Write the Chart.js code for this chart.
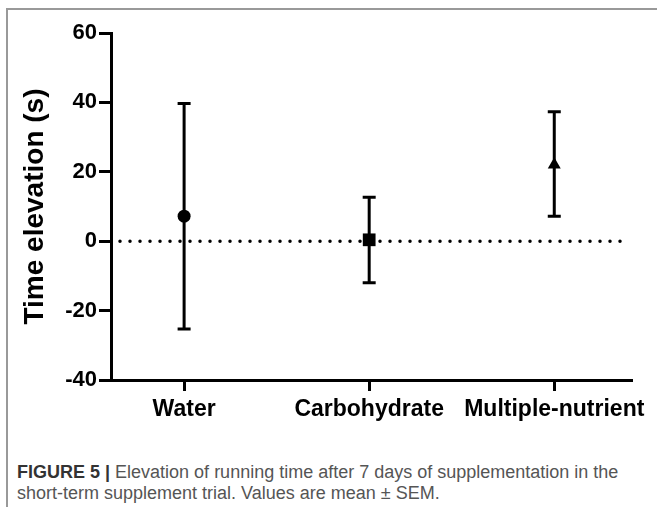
<!DOCTYPE html>
<html>
<head>
<meta charset="utf-8">
<script src="https://cdn.jsdelivr.net/npm/chart.js@4/dist/chart.umd.min.js"></script>
<style>
  html, body { margin: 0; padding: 0; background: #fff; }
  body { width: 657px; height: 507px; position: relative; overflow: hidden; }
  .frame { position: absolute; left: 6px; top: 8px; width: 700px; height: 520px;
           border-top: 2px solid #999; border-left: 2px solid #999; }
  #wrap { position: absolute; left: 0; top: 0; width: 657px; height: 440px; }
  .caption { position: absolute; left: 17px; top: 462px; width: 640px; white-space: nowrap;
             font: 18px "Liberation Sans", Arial, sans-serif; line-height: 21px; color: #555; }
  .caption b { color: #333; }
</style>
</head>
<body>
<div class="frame"></div>
<div id="wrap"><canvas id="chart"></canvas></div>
<div class="caption"><b>FIGURE 5 |</b> Elevation of running time after 7 days of supplementation in the<br>short-term supplement trial. Values are mean &plusmn; SEM.</div>
<script>
// Values (mean and the ends of the SEM bars)
const categories = ['Water', 'Carbohydrate', 'Multiple-nutrient'];
const means = [7.2, 0.4, 22];
const upper = [39.7, 12.7, 37.3];
const lower = [-25.3, -12, 7.2];
const yTicks = [-40, -20, 0, 20, 40, 60];

const FONT = '"Liberation Sans", Arial, sans-serif';

// error bars + dotted zero line, drawn under the markers
const errorBars = {
  id: 'errorBars',
  beforeDatasetsDraw(chart) {
    const { ctx, chartArea } = chart;
    const xs = chart.scales.x, ys = chart.scales.y;
    ctx.save();
    // zero reference line
    const y0 = ys.getPixelForValue(0);
    ctx.strokeStyle = '#000';
    ctx.lineWidth = 3.5;
    ctx.lineCap = 'round';
    ctx.setLineDash([0, 10]);
    ctx.beginPath();
    ctx.moveTo(chartArea.left + 9, y0);
    ctx.lineTo(chartArea.right - 4, y0);
    ctx.stroke();
    ctx.setLineDash([]);
    ctx.lineCap = 'butt';
    ctx.lineWidth = 3;
    for (let i = 0; i < categories.length; i++) {
      const x = xs.getPixelForValue(i);
      const yt = ys.getPixelForValue(upper[i]);
      const yb = ys.getPixelForValue(lower[i]);
      ctx.beginPath();
      ctx.moveTo(x, yt); ctx.lineTo(x, yb);
      ctx.moveTo(x - 6.5, yt); ctx.lineTo(x + 6.5, yt);
      ctx.moveTo(x - 6.5, yb); ctx.lineTo(x + 6.5, yb);
      ctx.stroke();
    }
    ctx.restore();
  }
};

new Chart(document.getElementById('chart'), {
  type: 'scatter',
  data: {
    datasets: [{
      data: means.map((m, i) => ({ x: i, y: m })),
      pointStyle: ['circle', 'rect', 'triangle'],
      pointRadius: [6.5, 9, 7.5],
      pointBackgroundColor: '#000',
      pointBorderWidth: 0,
    }]
  },
  options: {
    responsive: true,
    maintainAspectRatio: false,
    animation: false,
    layout: { padding: { top: 33, right: 25, bottom: 0, left: 0 } },
    plugins: { legend: { display: false }, tooltip: { enabled: false } },
    scales: {
      x: {
        type: 'linear',
        min: -0.395,
        max: 2.42,
        afterBuildTicks: s => { s.ticks = categories.map((c, i) => ({ value: i })); },
        afterFit: s => { s.height = 60; },
        border: { display: true, width: 3, color: '#000' },
        grid: { drawOnChartArea: false, drawTicks: true, tickLength: 11, tickWidth: 3, tickColor: '#000' },
        ticks: {
          autoSkip: false, maxRotation: 0, padding: 5, color: '#000',
          font: { family: FONT, size: 23, weight: 'bold' },
          callback: v => categories[v]
        }
      },
      y: {
        min: -40,
        max: 60,
        afterBuildTicks: s => { s.ticks = yTicks.map(v => ({ value: v })); },
        afterFit: s => { s.width = 111; },
        border: { display: true, width: 3, color: '#000' },
        grid: { drawOnChartArea: false, drawTicks: true, tickLength: 12, tickWidth: 3, tickColor: '#000' },
        ticks: { padding: 2, color: '#000', font: { family: FONT, size: 22, weight: 'bold' } },
        title: {
          display: true, text: 'Time elevation (s)', color: '#000',
          padding: { top: 18, bottom: 0 },
          font: { family: FONT, size: 28, weight: 'bold' }
        }
      }
    }
  },
  plugins: [errorBars]
});
</script>
</body>
</html>
